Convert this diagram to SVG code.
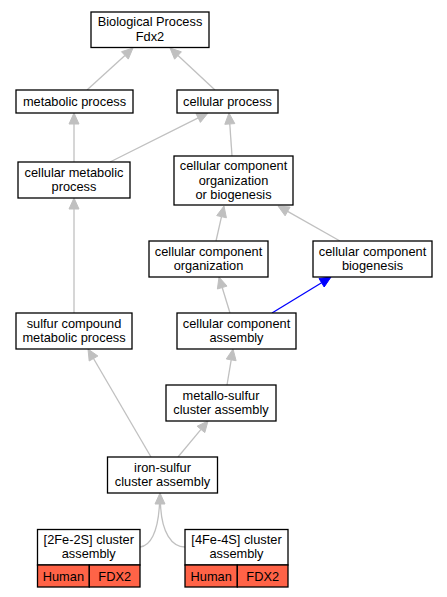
<svg xmlns="http://www.w3.org/2000/svg" width="447" height="597" viewBox="0 0 447 597">
<style>
.box{fill:#fff;stroke:#000;stroke-width:1.3}
.cell{fill:#ff6347;stroke:#000;stroke-width:1.3}
text{font-family:"Liberation Sans",Arial,sans-serif;font-size:12.8px;fill:#000;text-anchor:middle}
.e{fill:none;stroke:#c0c0c0;stroke-width:1.3}
.a{fill:#c0c0c0;stroke:#c0c0c0;stroke-width:1}
.eb{fill:none;stroke:#0000ff;stroke-width:1.3}
.ab{fill:#0000ff;stroke:#0000ff;stroke-width:1}
</style>
<rect width="447" height="597" fill="#fff"/>
<g id="connectors">
<path class="e" d="M87,90 L124.9,55.4"/><polygon class="a" points="133,48 128.3,59.1 121.5,51.7"/>
<path class="e" d="M215,90 L178,55.5"/><polygon class="a" points="170,48 181.4,51.8 174.6,59.2"/>
<path class="e" d="M74,162 L74,124"/><polygon class="a" points="74,113 69,124 79,124"/>
<path class="e" d="M110,162 L198.2,117.9"/><polygon class="a" points="208,113 200.4,122.4 195.9,113.5"/>
<path class="e" d="M232,156 L229.8,124"/><polygon class="a" points="229,113 234.8,123.6 224.8,124.3"/>
<path class="e" d="M216,241 L221.5,216.7"/><polygon class="a" points="224,206 226.4,217.8 216.7,215.6"/>
<path class="e" d="M340,241 L287.6,211.4"/><polygon class="a" points="278,206 290.1,207.1 285.1,215.8"/>
<path class="e" d="M230,313 L222.2,287.5"/><polygon class="a" points="219,277 227,286.1 217.4,289"/>
<path class="eb" d="M272,313 L321.6,282.7"/><polygon class="ab" points="331,277 324.2,287 319,278.5"/>
<path class="e" d="M74,313 L74,209"/><polygon class="a" points="74,198 69,209 79,209"/>
<path class="e" d="M227,385 L231.2,359.9"/><polygon class="a" points="233,349 236.1,360.7 226.3,359"/>
<path class="e" d="M151,457 L93.5,358.5"/><polygon class="a" points="88,349 97.9,356 89.2,361"/>
<path class="e" d="M178,457 L201,429.4"/><polygon class="a" points="208,421 204.8,432.6 197.1,426.2"/>
<path class="e" d="M140,547 C150,546 158,533 159.5,504"/>
<path class="e" d="M185,547 C172,547 161.5,533 160.5,504"/>
<polygon class="a" points="160,493 155,504 165,504"/>
</g>
<g id="n_bp"><rect class="box" x="91" y="12" width="118" height="35.5"/><text x="150" y="26.4">Biological Process</text><text x="150" y="40.7">Fdx2</text></g>
<g id="n_metabolic"><rect class="box" x="16" y="90" width="117" height="23"/><text x="74.5" y="105.5">metabolic process</text></g>
<g id="n_cellular"><rect class="box" x="177" y="90" width="101" height="23"/><text x="227.5" y="105.5">cellular process</text></g>
<g id="n_cellmet"><rect class="box" x="18" y="162" width="112" height="36"/><text x="74" y="176.9">cellular metabolic</text><text x="74" y="191.2">process</text></g>
<g id="n_ccob"><rect class="box" x="174" y="156" width="119" height="49"/><text x="233.5" y="170.2">cellular component</text><text x="233.5" y="184.5">organization</text><text x="233.5" y="198.8">or biogenesis</text></g>
<g id="n_ccorg"><rect class="box" x="149" y="241" width="119" height="36"/><text x="208.5" y="255.9">cellular component</text><text x="208.5" y="270.2">organization</text></g>
<g id="n_ccbio"><rect class="box" x="313" y="241" width="119" height="36"/><text x="372.5" y="255.9">cellular component</text><text x="372.5" y="270.2">biogenesis</text></g>
<g id="n_ccasm"><rect class="box" x="177" y="313" width="119" height="36"/><text x="236.5" y="327.9">cellular component</text><text x="236.5" y="342.2">assembly</text></g>
<g id="n_sulfur"><rect class="box" x="16" y="313" width="116" height="36"/><text x="74" y="327.9">sulfur compound</text><text x="74" y="342.2">metabolic process</text></g>
<g id="n_metallo"><rect class="box" x="166" y="385" width="110" height="36"/><text x="221" y="399.9">metallo-sulfur</text><text x="221" y="414.2">cluster assembly</text></g>
<g id="n_iron"><rect class="box" x="107.5" y="457" width="110" height="36"/><text x="162.5" y="471.9">iron-sulfur</text><text x="162.5" y="486.2">cluster assembly</text></g>
<g id="n_2fe"><rect class="box" x="37.5" y="529.5" width="102.5" height="35.5"/><rect class="cell" x="37.5" y="565" width="51.8" height="22"/><rect class="cell" x="89.3" y="565" width="50.7" height="22"/><text x="88.75" y="544.1">[2Fe-2S] cluster</text><text x="88.75" y="558.4">assembly</text><text x="63.4" y="580.5">Human</text><text x="114.7" y="580.5">FDX2</text></g>
<g id="n_4fe"><rect class="box" x="185" y="529.5" width="103" height="35.5"/><rect class="cell" x="185" y="565" width="52.3" height="22"/><rect class="cell" x="237.3" y="565" width="50.7" height="22"/><text x="236.5" y="544.1">[4Fe-4S] cluster</text><text x="236.5" y="558.4">assembly</text><text x="211.2" y="580.5">Human</text><text x="262.7" y="580.5">FDX2</text></g>
</svg>
